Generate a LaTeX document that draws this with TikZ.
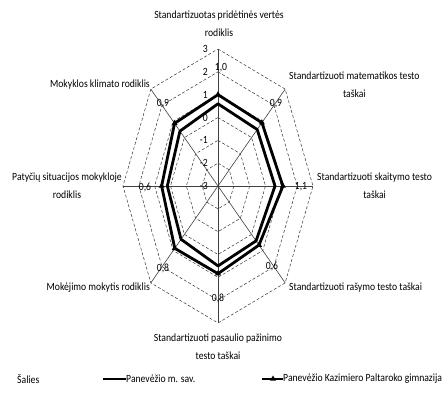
\documentclass[tikz,border=0pt]{standalone}
\usepackage{fontspec}
\setmainfont{Carlito}[FakeStretch=0.88]
\usetikzlibrary{shapes.geometric}
\tikzset{
  gridring/.style={draw=black!80, line width=0.5pt, dash pattern=on 3pt off 2pt},
  spoke/.style={draw=black!75, line width=0.6pt},
  series/.style={draw=black, line width=2.8pt, line join=round},
  tri/.style={regular polygon, regular polygon sides=3, fill=black, draw=none, inner sep=0pt, minimum size=7pt},
  lbl/.style={inner sep=0pt, align=center},
  ticklbl/.style={inner sep=0pt, anchor=east},
}
\begin{document}
\begin{tikzpicture}[x=1pt,y=-1pt,font=\fontsize{11}{18}\selectfont]
\useasboundingbox (0,0) rectangle (448,393);
\coordinate (c) at (218,186);
% grid coordinates
\foreach \k in {0,...,7}{
  \foreach \l in {1,...,6}{
    \coordinate (g\k-\l) at ({218+\l/6*95*sin(45*\k)},{186-\l/6*137*cos(45*\k)});
  }
}
% rings
\foreach \l in {1,...,6}{
  \draw[gridring] (g0-\l) -- (g1-\l) -- (g2-\l) -- (g3-\l) -- (g4-\l) -- (g5-\l) -- (g6-\l) -- (g7-\l) -- cycle;
}
% spokes
\foreach \k in {0,...,7}{ \draw[spoke] (c) -- (g\k-6); }
% tick labels
\foreach \v [count=\i from 0] in {-3,-2,-1,0,1,2,3}{
  \node[ticklbl] (t\i) at (208,{186-\i/6*137}) {\v};
}
% series: Panevėžio m. sav. (inner)
\foreach \k/\v in {0/0.6,1/0.5,2/0.6,3/0.4,4/0.5,5/0.3,6/0.2,7/0.4}{
  \coordinate (i\k) at ({218+(\v+3)/6*95*sin(45*\k)},{186-(\v+3)/6*137*cos(45*\k)});
}
\draw[series] (i0) -- (i1) -- (i2) -- (i3) -- (i4) -- (i5) -- (i6) -- (i7) -- cycle;
% series: gimnazija (outer)
\foreach \k/\v in {0/1.0,1/0.92,2/1.1,3/0.66,4/0.84,5/0.86,6/0.56,7/0.88}{
  \coordinate (o\k) at ({218+(\v+3)/6*95*sin(45*\k)},{186-(\v+3)/6*137*cos(45*\k)});
}
\draw[series] (o0) -- (o1) -- (o2) -- (o3) -- (o4) -- (o5) -- (o6) -- (o7) -- cycle;
\foreach \k in {0,...,7}{ \node[tri] (m\k) at (o\k) {}; }
% data labels
\node[lbl] (d0) at (221,68) {1,0};
\node[lbl] (d1) at (276,104) {0,9};
\node[lbl] (d2) at (301,187) {1,1};
\node[lbl] (d3) at (272,266) {0,6};
\node[lbl] (d4) at (218,298) {0,8};
\node[lbl] (d5) at (163,268) {0,8};
\node[lbl] (d6) at (145,187) {0,6};
\node[lbl] (d7) at (163,104) {0,9};
% axis labels
\node[lbl] (a0) at (219,24) {Standartizuotas pridėtinės vertės\\rodiklis};
\node[lbl,anchor=west] (a1) at (289,85) {Standartizuoti matematikos testo\\taškai};
\node[lbl,anchor=west] (a2) at (317,186) {Standartizuoti skaitymo testo\\taškai};
\node[lbl,anchor=west] (a3) at (289,288) {Standartizuoti rašymo testo taškai};
\node[lbl] (a4) at (218,347) {Standartizuoti pasaulio pažinimo\\testo taškai};
\node[lbl,anchor=east] (a5) at (150,288) {Mokėjimo mokytis rodiklis};
\node[lbl,anchor=east] (a6) at (122,186) {Patyčių situacijos mokykloje\\rodiklis};
\node[lbl,anchor=east] (a7) at (150,85) {Mokyklos klimato rodiklis};
% legend
\node[lbl,anchor=west] (lg0) at (17,379) {Šalies};
\coordinate (l1a) at (103,379);
\node[lbl,anchor=west] (lg1) at (126,379) {Panevėžio m. sav.};
\draw[series,line cap=butt] (l1a) -- (lg1.west);
\coordinate (l2a) at (262,379);
\node[lbl,anchor=west] (lg2) at (283,379) {Panevėžio Kazimiero Paltaroko gimnazija};
\draw[series,line cap=butt] (l2a) -- (lg2.west);
\node[tri] (lm) at (273,379) {};
\end{tikzpicture}
\end{document}
